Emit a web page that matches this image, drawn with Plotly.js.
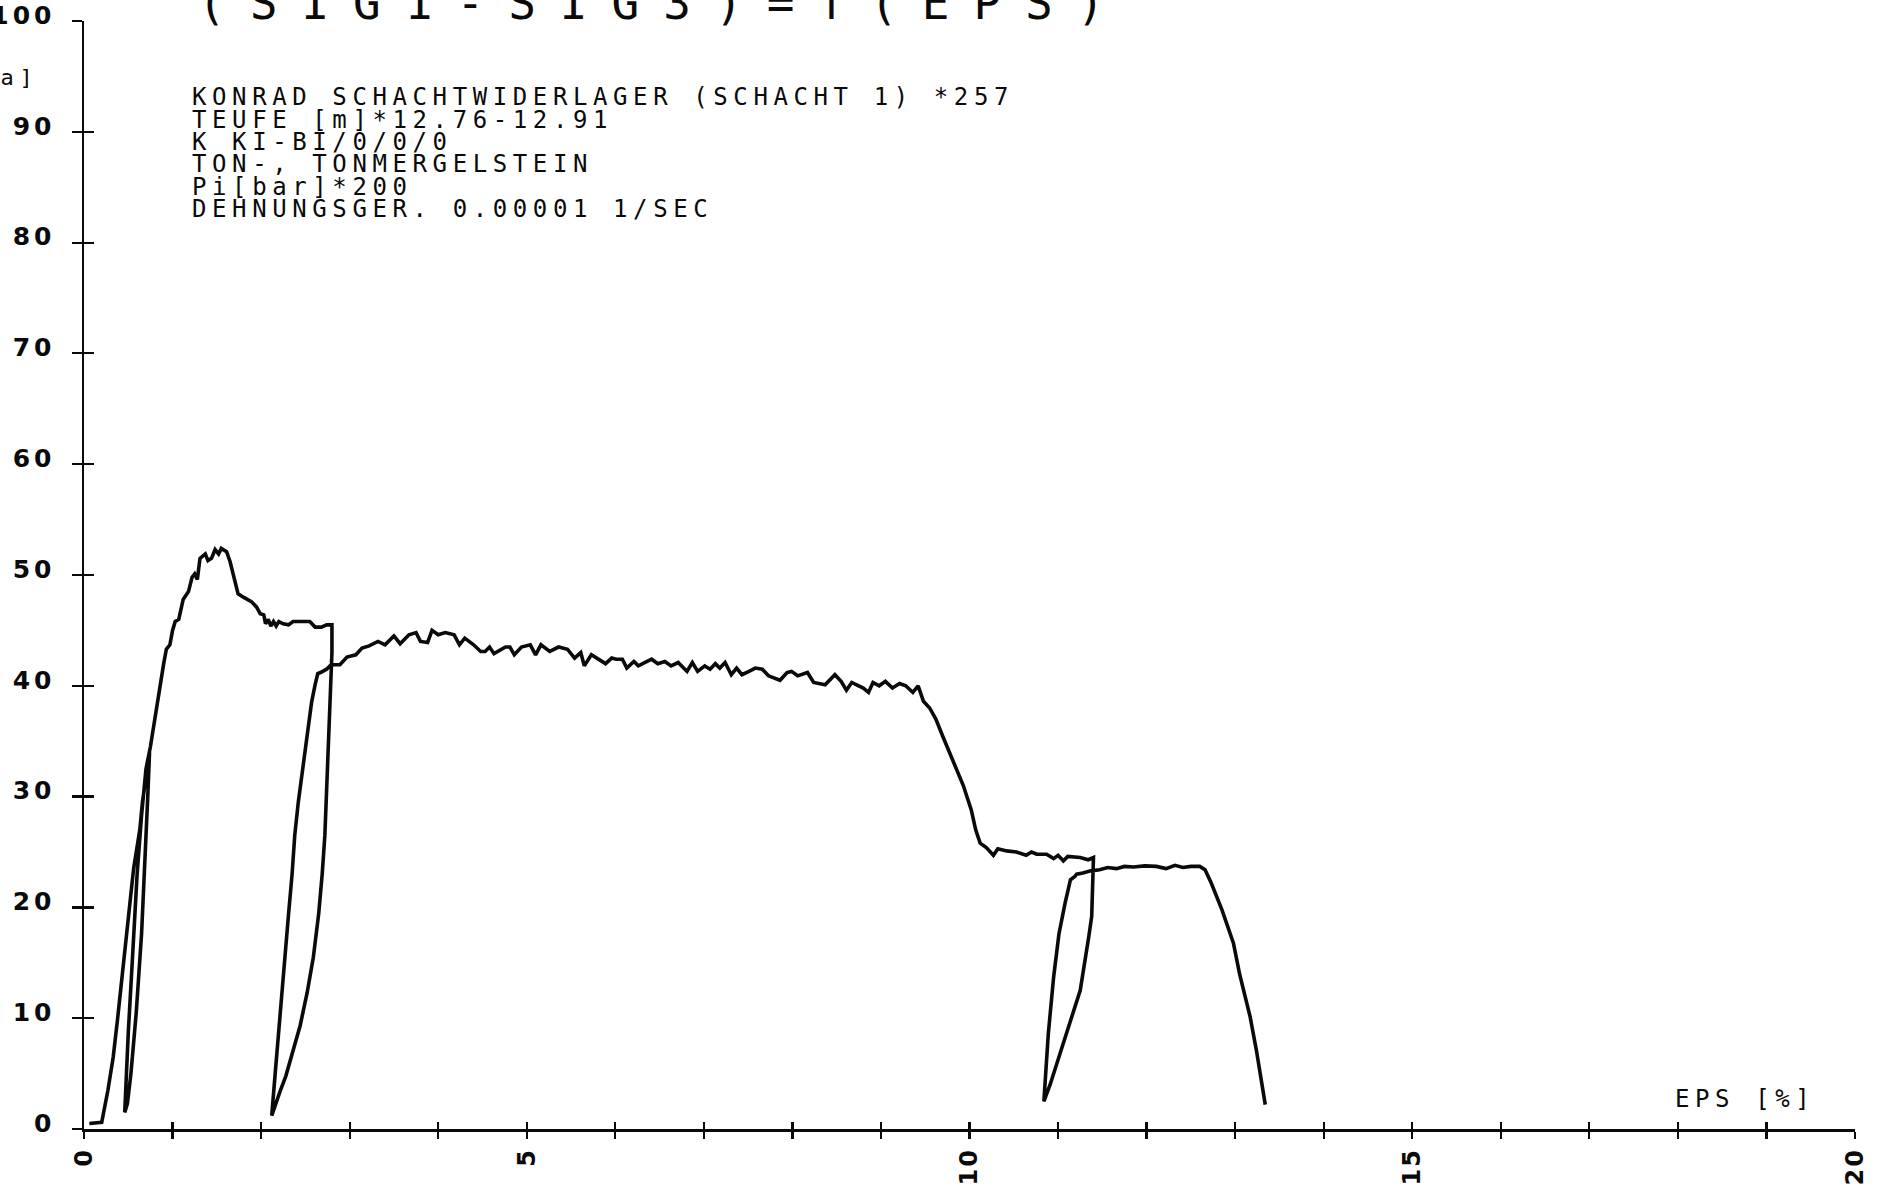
<!DOCTYPE html>
<html>
<head>
<meta charset="utf-8">
<script src="https://cdn.plot.ly/plotly-3.0.1.min.js"></script>
<style>
  html, body { margin: 0; padding: 0; background: #fff; }
  #chart { width: 1880px; height: 1194px; }
  .gtitle { letter-spacing: 24px; }
  .annotation-text { letter-spacing: 5.6px; }
  .ytick text { letter-spacing: 4px; }
  .xtick text { letter-spacing: 2px; }
</style>
</head>
<body>
<div id="chart"></div>
<script>
// ---- data: EPS [%] vs (SIG1-SIG3) [MPa] ----
// initial loading up to first unloading loop
const firstLoadEps = [0.06, 0.20, 0.27, 0.33, 0.38, 0.43, 0.48, 0.52, 0.56, 0.60, 0.63, 0.66, 0.70, 0.74];
const firstLoadSig = [0.5, 0.6, 3.5, 6.5, 10.0, 13.5, 17.0, 20.5, 23.5, 25.8, 27.0, 29.5, 32.0, 34.0];
// first small unloading / reloading loop
const firstLoopEps = [0.72, 0.69, 0.65, 0.59, 0.53, 0.49, 0.46, 0.47, 0.50, 0.55, 0.60, 0.65, 0.70, 0.75];
const firstLoopSig = [30.0, 24.8, 17.6, 10.5, 5.0, 2.3, 1.5, 3.3, 8.7, 15.8, 23.0, 28.3, 32.5, 34.5];
// rise to peak strength and post-peak plateau
const peakEps = [0.78, 0.82, 0.86, 0.90, 0.93, 0.97, 1.00, 1.03, 1.07, 1.12, 1.18, 1.22, 1.25, 1.28, 1.31, 1.37, 1.40, 1.44, 1.48, 1.52, 1.55, 1.61, 1.65, 1.69, 1.74, 1.80, 1.89, 1.95, 1.99, 2.03, 2.05, 2.08, 2.11, 2.14, 2.17, 2.20, 2.25, 2.31, 2.36, 2.45, 2.55, 2.61, 2.68, 2.74, 2.80];
const peakSig = [36.0, 38.3, 40.5, 42.0, 43.3, 43.7, 45.0, 45.8, 46.0, 47.8, 48.5, 49.8, 50.1, 49.6, 51.5, 51.9, 51.3, 51.5, 52.3, 51.9, 52.4, 52.1, 51.2, 49.8, 48.3, 48.0, 47.6, 47.1, 46.5, 46.4, 45.6, 46.0, 45.4, 45.8, 45.4, 45.8, 45.6, 45.5, 45.8, 45.8, 45.8, 45.3, 45.3, 45.5, 45.5];
// second (large) unloading
const unload2Eps = [2.80, 2.79, 2.77, 2.76, 2.74, 2.72, 2.69, 2.65, 2.59, 2.52, 2.44, 2.36, 2.28, 2.21, 2.12];
const unload2Sig = [43.0, 40.8, 36.0, 33.7, 30.0, 26.5, 23.0, 19.4, 15.5, 12.3, 9.3, 6.9, 4.8, 3.3, 1.2];
// reloading
const reload2Eps = [2.16, 2.20, 2.23, 2.27, 2.31, 2.35, 2.38, 2.42, 2.46, 2.50, 2.53, 2.57, 2.61, 2.64, 2.67, 2.74, 2.79, 2.89];
const reload2Sig = [5.1, 9.0, 12.3, 16.0, 19.4, 23.0, 26.5, 29.5, 31.9, 34.5, 36.5, 38.5, 40.1, 41.1, 41.2, 41.5, 41.9, 41.9];
// long residual plateau
const plateauEps = [2.97, 3.07, 3.14, 3.22, 3.32, 3.40, 3.50, 3.57, 3.67, 3.75, 3.80, 3.88, 3.93, 4.00, 4.08, 4.18, 4.24, 4.30, 4.40, 4.48, 4.53, 4.58, 4.63, 4.76, 4.81, 4.86, 4.94, 5.04, 5.10, 5.16, 5.26, 5.36, 5.46, 5.54, 5.61, 5.65, 5.73, 5.89, 5.96, 6.01, 6.08, 6.13, 6.21, 6.26, 6.41, 6.48, 6.56, 6.63, 6.71, 6.81, 6.87, 6.93, 7.01, 7.07, 7.13, 7.18, 7.24, 7.31, 7.37, 7.43, 7.51, 7.58, 7.66, 7.73, 7.86, 7.94, 7.99, 8.06, 8.17, 8.24, 8.37, 8.48, 8.55, 8.61, 8.67, 8.80, 8.86, 8.91, 8.98, 9.05, 9.13, 9.21, 9.28, 9.36, 9.42];
const plateauSig = [42.6, 42.8, 43.4, 43.6, 44.0, 43.7, 44.5, 43.8, 44.6, 44.8, 44.0, 43.9, 45.0, 44.6, 44.8, 44.6, 43.7, 44.3, 43.7, 43.1, 43.1, 43.5, 42.9, 43.5, 43.5, 42.8, 43.5, 43.7, 42.8, 43.7, 43.1, 43.5, 43.3, 42.5, 43.0, 41.8, 42.8, 42.0, 42.5, 42.4, 42.4, 41.6, 42.2, 41.8, 42.4, 42.0, 42.2, 41.8, 42.1, 41.3, 42.1, 41.3, 41.8, 41.5, 42.0, 41.6, 42.1, 41.0, 41.6, 41.0, 41.3, 41.6, 41.5, 40.9, 40.5, 41.2, 41.3, 40.9, 41.2, 40.3, 40.1, 41.0, 40.4, 39.6, 40.3, 39.8, 39.4, 40.3, 40.0, 40.4, 39.8, 40.2, 40.0, 39.4, 40.0];
// softening to lower plateau
const softenEps = [9.48, 9.55, 9.62, 9.70, 9.82, 9.93, 10.02, 10.07, 10.12, 10.19, 10.27, 10.32, 10.42, 10.53, 10.64, 10.70, 10.76, 10.87, 10.95, 11.00, 11.06, 11.11, 11.25, 11.34, 11.40];
const softenSig = [38.6, 38.0, 37.0, 35.4, 33.2, 31.0, 28.8, 27.0, 25.8, 25.4, 24.7, 25.3, 25.1, 25.0, 24.7, 25.0, 24.8, 24.8, 24.4, 24.7, 24.2, 24.6, 24.5, 24.3, 24.5];
// third unloading
const unload3Eps = [11.39, 11.38, 11.35, 11.31, 11.25, 11.19, 11.13, 11.05, 10.98, 10.91, 10.84];
const unload3Sig = [22.0, 19.2, 17.5, 15.6, 12.5, 11.0, 9.5, 7.5, 5.6, 4.0, 2.5];
// reloading, final plateau and failure
const finalEps = [10.89, 10.95, 11.01, 11.08, 11.14, 11.19, 11.21, 11.28, 11.37, 11.47, 11.56, 11.66, 11.75, 11.85, 11.98, 12.11, 12.22, 12.32, 12.41, 12.50, 12.60, 12.66, 12.73, 12.85, 12.98, 13.05, 13.17, 13.24, 13.34];
const finalSig = [8.6, 13.7, 17.6, 20.4, 22.5, 22.8, 23.0, 23.1, 23.3, 23.4, 23.6, 23.5, 23.7, 23.65, 23.75, 23.7, 23.5, 23.8, 23.6, 23.7, 23.7, 23.4, 22.2, 19.8, 16.8, 14.0, 10.1, 7.1, 2.2];

// axis ticks
const epsTickVals = [0,1,2,3,4,5,6,7,8,9,10,11,12,13,14,15,16,17,18,19,20];
const epsTickText = ['0','','','','','5','','','','','10','','','','','15','','','','','20'];
const sigTickVals = [0,10,20,30,40,50,60,70,80,90,100];
const sigTickText = ['0','10','20','30','40','50','60','70','80','90','100'];

// header text lines
const headerLines = [
  'KONRAD SCHACHTWIDERLAGER (SCHACHT 1) *257',
  'TEUFE [m]*12.76-12.91',
  'K KI-BI/0/0/0',
  'TON-, TONMERGELSTEIN',
  'Pi[bar]*200',
  'DEHNUNGSGER. 0.00001 1/SEC'
];
const chartTitle = '(SIG1-SIG3)=f(EPS)';
const xLabel = 'EPS [%]';
const yLabel = '[MPa]';

// ---- build ----
const eps = [].concat(firstLoadEps, firstLoopEps, peakEps, unload2Eps, reload2Eps, plateauEps, softenEps, unload3Eps, finalEps);
const sig = [].concat(firstLoadSig, firstLoopSig, peakSig, unload2Sig, reload2Sig, plateauSig, softenSig, unload3Sig, finalSig);

const ink = '#0a0a0a';
const mono = 'DejaVu Sans Mono, Liberation Mono, monospace';
const tickFamily = 'DejaVu Sans, Liberation Sans, sans-serif';

const traces = [
  { x: eps, y: sig, type: 'scatter', mode: 'lines', line: { color: ink, width: 3.6, shape: 'linear' }, cliponaxis: false, hoverinfo: 'skip', showlegend: false },
  { x: [], y: [], xaxis: 'x2', yaxis: 'y2', type: 'scatter', mode: 'lines', hoverinfo: 'skip', showlegend: false }
];

const plotH = 1194 - 21 - 65;
const yPix = function (px) { return (1129 - px) / plotH; };
const xPix = function (px) { return (px - 84) / (1880 - 84 - 25); };

const annotations = headerLines.map(function (t, i) {
  return { text: t, xref: 'paper', yref: 'paper', x: xPix(190), y: yPix(97.5 + 22.3 * i), xanchor: 'left', yanchor: 'middle', align: 'left', showarrow: false, font: { family: mono, size: 24, color: ink } };
});
annotations.push({ text: xLabel, xref: 'paper', yref: 'paper', x: xPix(1673), y: yPix(1098.5), xanchor: 'left', yanchor: 'middle', align: 'left', showarrow: false, font: { family: mono, size: 24, color: ink } });
annotations.push({ text: yLabel, xref: 'paper', yref: 'paper', x: xPix(40), y: yPix(78), xanchor: 'right', yanchor: 'middle', align: 'right', showarrow: false, font: { family: mono, size: 22, color: ink } });

const commonAxis = { showgrid: false, zeroline: false, tickcolor: ink, tickwidth: 2.2 };

const layout = {
  width: 1880, height: 1194,
  margin: { l: 84, r: 25, t: 21, b: 65, pad: 0 },
  paper_bgcolor: '#ffffff', plot_bgcolor: '#ffffff',
  showlegend: false,
  title: { text: chartTitle, font: { family: mono, size: 46, color: ink }, xref: 'container', yref: 'container', x: 198 / 1880, xanchor: 'left', y: 1 - 19 / 1194, yanchor: 'bottom' },
  xaxis: Object.assign({}, commonAxis, {
    range: [0, 20], tickmode: 'array', tickvals: epsTickVals, ticktext: epsTickText,
    ticks: 'outside', ticklen: 7, showline: true, linewidth: 2.5, linecolor: ink,
    tickangle: -90, ticklabelstandoff: 0,
    tickfont: { family: tickFamily, size: 24, color: ink, weight: 'bold' }
  }),
  yaxis: Object.assign({}, commonAxis, {
    range: [0, 100], tickmode: 'array', tickvals: sigTickVals, ticktext: sigTickText,
    ticks: 'outside', ticklen: 10, showline: true, linewidth: 2.5, linecolor: ink,
    ticklabelstandoff: 11, ticklabelshift: -6,
    tickfont: { family: tickFamily, size: 25, color: ink, weight: 'bold' }
  }),
  xaxis2: Object.assign({}, commonAxis, {
    overlaying: 'x', anchor: 'y2', side: 'bottom', range: [0, 20], tickmode: 'array', tickvals: epsTickVals,
    ticks: 'inside', ticklen: 7, showticklabels: false, showline: false
  }),
  yaxis2: Object.assign({}, commonAxis, {
    overlaying: 'y', anchor: 'x2', side: 'left', range: [0, 100], tickmode: 'array', tickvals: sigTickVals,
    ticks: 'inside', ticklen: 10, showticklabels: false, showline: false
  }),
  annotations: annotations
};

Plotly.newPlot('chart', traces, layout, { staticPlot: true, displayModeBar: false });
</script>
</body>
</html>
